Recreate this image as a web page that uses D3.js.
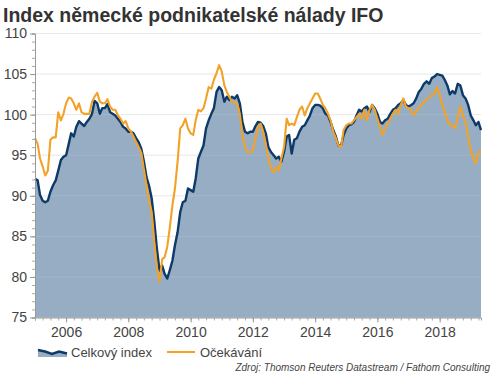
<!DOCTYPE html>
<html>
<head>
<meta charset="utf-8">
<script src="https://cdn.jsdelivr.net/npm/d3@7"></script>
<style>
  body { margin: 0; background: #fff; }
  svg { font-family: "Liberation Sans", Arial, sans-serif; }
</style>
</head>
<body>
<svg id="chart" width="500" height="375"></svg>
<script>
// monthly data, Jan 2005 .. May 2019
const startMonth = new Date(2005, 0, 1);

const celkovy = [
  92.1, 91.9, 90.1, 89.4, 89.2, 89.4, 90.5, 91.3, 91.9, 93.1, 94.4, 94.8,
  95.0, 96.4, 97.7, 97.3, 98.5, 99.2, 98.9, 98.6, 99.1, 99.5, 100.1, 101.7,
  101.4, 100.1, 100.8, 100.8, 101.3, 100.3, 100.1, 99.9, 99.5, 99.1, 98.5, 98.3,
  97.9, 97.9, 97.7, 97.1, 96.6, 95.8, 94.3, 92.3, 91.2, 89.7, 86.8, 83.5,
  80.8, 81.4, 80.4, 79.8, 80.8, 82.0, 83.9, 85.5, 88.0, 89.2, 89.4, 90.9,
  90.7, 90.5, 92.1, 94.6, 95.4, 96.2, 98.3, 99.3, 100.1, 100.8, 102.8, 103.4,
  103.0, 101.6, 102.2, 101.8, 102.2, 102.0, 102.4, 101.4, 99.1, 97.9, 97.7, 97.9,
  97.9, 98.6, 99.1, 99.0, 98.6, 97.7, 96.0, 95.4, 95.0, 94.6, 94.8, 94.2,
  95.4, 97.3, 97.5, 95.2, 96.9, 97.1, 97.9, 98.5, 98.7, 99.3, 99.9, 100.8,
  101.2, 101.2, 101.1, 100.8, 100.1, 99.9, 99.1, 98.1, 97.3, 96.2, 96.2, 97.5,
  98.3, 98.7, 98.8, 99.1, 99.9, 100.6, 100.4, 100.8, 101.0, 100.3, 101.2, 100.8,
  100.1, 99.1, 98.9, 99.3, 99.5, 100.1, 100.6, 100.8, 101.2, 101.4, 101.8, 101.2,
  101.0, 101.2, 101.4, 102.0, 102.8, 103.2, 103.8, 104.1, 103.8, 104.5, 104.7, 105.0,
  104.9, 104.8, 104.3, 103.6, 102.5, 102.9, 102.6, 103.8, 103.6, 102.4, 102.0, 101.2,
  99.9, 99.3, 98.7, 99.1, 98.1
];

const ocekavani = [
  97.1, 96.4, 94.6, 93.6, 92.5, 93.1, 96.9, 97.2, 97.2, 100.3, 99.3, 100.1,
  101.4, 102.1, 102.0, 101.4, 100.6, 101.4, 100.3, 100.1, 100.1, 100.1, 101.6, 102.2,
  102.7, 101.6, 101.4, 101.4, 101.9, 101.0, 100.6, 100.6, 99.9, 99.5, 98.9, 99.2,
  98.3, 97.9, 97.3, 96.6, 96.0, 95.3, 93.3, 91.3, 89.3, 88.0, 84.3, 81.2,
  79.4, 82.2, 82.4, 83.7, 86.0, 88.8, 90.9, 94.2, 98.3, 98.7, 99.5, 98.3,
  97.7, 97.5, 99.3, 100.6, 100.4, 100.8, 102.0, 103.4, 103.2, 104.3, 105.1, 106.1,
  105.3, 103.6, 102.8, 102.2, 101.6, 101.5, 101.4, 100.1, 97.5, 96.0, 95.4, 95.4,
  95.5, 97.1, 98.5, 98.9, 97.9, 96.4, 94.6, 93.4, 92.9, 93.6, 93.1, 94.6,
  96.0, 99.5, 98.7, 98.9, 98.7, 99.7, 100.6, 101.0, 99.9, 100.8, 101.4, 102.0,
  102.6, 102.6, 102.0, 101.2, 100.8, 100.1, 99.3, 97.9, 97.1, 96.2, 96.0, 98.1,
  98.7, 98.9, 98.9, 99.3, 99.7, 100.1, 99.5, 100.6, 99.3, 100.6, 101.2, 100.6,
  99.5, 98.5, 97.5, 98.3, 98.9, 99.5, 100.1, 100.6, 100.1, 101.2, 102.0, 101.0,
  100.8, 100.6, 99.9, 100.4, 100.8, 101.2, 101.6, 101.8, 102.2, 102.4, 102.6, 103.4,
  102.4, 101.2, 100.4, 99.3, 98.7, 98.7, 98.3, 99.7, 101.0, 99.9, 99.1, 97.3,
  95.6, 94.6, 94.0, 95.4, 95.4
];

const yTicks = [75, 80, 85, 90, 95, 100, 105, 110];
const seriesNames = ['Celkový index', 'Očekávání'];
const titleText = 'Index německé podnikatelské nálady IFO';
const sourceText = 'Zdroj: Thomson Reuters Datastream / Fathom Consulting';

const dates = celkovy.map((d, i) => d3.timeMonth.offset(startMonth, i));

const svg = d3.select('#chart');
const plot = {left: 35, right: 481, top: 33.5, bottom: 317.5};

const x = d3.scaleTime()
    .domain([startMonth, dates[dates.length - 1]])
    .range([plot.left, plot.right]);

const y = d3.scaleLinear()
    .domain([75, 110])
    .range([plot.bottom, plot.top]);

svg.append('text')
    .attr('x', 3)
    .attr('y', 22)
    .attr('font-size', 19.5)
    .attr('font-weight', 'bold')
    .attr('fill', '#333')
    .text(titleText);

// grid under the area
svg.append('g')
  .selectAll('line')
  .data(yTicks)
  .join('line')
    .attr('x1', plot.left).attr('x2', plot.right)
    .attr('y1', d => y(d)).attr('y2', d => y(d))
    .attr('stroke', '#e6e6e6');

const area = d3.area()
    .x((d, i) => x(dates[i]))
    .y0(y(75))
    .y1(d => y(d));

const line = d3.line()
    .x((d, i) => x(dates[i]))
    .y(d => y(d));

svg.append('path')
    .datum(celkovy)
    .attr('d', area)
    .attr('fill', '#97adc3');

// faint grid over the area
svg.append('g')
  .selectAll('line')
  .data(yTicks.slice(1))
  .join('line')
    .attr('x1', plot.left).attr('x2', plot.right)
    .attr('y1', d => y(d)).attr('y2', d => y(d))
    .attr('stroke', '#fff')
    .attr('stroke-opacity', 0.12);

svg.append('path')
    .datum(celkovy)
    .attr('d', line)
    .attr('fill', 'none')
    .attr('stroke', '#0d3a68')
    .attr('stroke-width', 2.4)
    .attr('stroke-linejoin', 'round');

svg.append('path')
    .datum(ocekavani)
    .attr('d', line)
    .attr('fill', 'none')
    .attr('stroke', '#f2a227')
    .attr('stroke-width', 2.1)
    .attr('stroke-linejoin', 'round');

// y axis
const yMinor = svg.append('g')
    .attr('transform', `translate(${plot.left},0)`)
    .call(d3.axisLeft(y).tickValues(d3.range(75, 111, 1)).tickSize(3).tickFormat(''));
yMinor.selectAll('line').attr('stroke', '#aaa');
yMinor.select('.domain').attr('stroke', '#999');

const yAxis = svg.append('g')
    .attr('transform', `translate(${plot.left},0)`)
    .call(d3.axisLeft(y).tickValues(yTicks).tickSize(5).tickPadding(3));
yAxis.select('.domain').remove();
yAxis.selectAll('line').attr('stroke', '#999');
yAxis.selectAll('text')
    .attr('font-size', 14)
    .attr('fill', '#444')
    .attr('font-family', '"Liberation Sans", Arial, sans-serif');

// x axis
const xMinor = svg.append('g')
    .attr('transform', `translate(0,${plot.bottom})`)
    .call(d3.axisBottom(x).ticks(d3.timeMonth.every(3)).tickSize(3).tickFormat(''));
xMinor.selectAll('line').attr('stroke', '#aaa');
xMinor.select('.domain').attr('stroke', '#999');

const xAxis = svg.append('g')
    .attr('transform', `translate(0,${plot.bottom})`)
    .call(d3.axisBottom(x).ticks(d3.timeYear.every(2)).tickSize(5).tickPadding(5)
      .tickFormat(d3.timeFormat('%Y')));
xAxis.select('.domain').remove();
xAxis.selectAll('line').attr('stroke', '#999');
xAxis.selectAll('text')
    .attr('font-size', 14)
    .attr('fill', '#444')
    .attr('font-family', '"Liberation Sans", Arial, sans-serif');

// legend
const lg = svg.append('g');
const swatch = [[38, 350], [45, 351.5], [52, 354], [59, 351.5], [67, 353.5]];
lg.append('path')
    .datum(swatch)
    .attr('d', d3.area().x(d => d[0]).y0(357).y1(d => d[1]))
    .attr('fill', '#97adc3');
lg.append('path')
    .datum(swatch)
    .attr('d', d3.line())
    .attr('fill', 'none')
    .attr('stroke', '#0d3a68')
    .attr('stroke-width', 2.4);
lg.append('text')
    .attr('x', 71).attr('y', 357)
    .attr('font-size', 13).attr('fill', '#444')
    .text(seriesNames[0]);
lg.append('line')
    .attr('x1', 167).attr('x2', 195)
    .attr('y1', 352).attr('y2', 352)
    .attr('stroke', '#f2a227')
    .attr('stroke-width', 2.1);
lg.append('text')
    .attr('x', 200).attr('y', 357)
    .attr('font-size', 13).attr('fill', '#444')
    .text(seriesNames[1]);

svg.append('text')
    .attr('x', 490).attr('y', 371)
    .attr('text-anchor', 'end')
    .attr('font-size', 10)
    .attr('font-style', 'italic')
    .attr('fill', '#444')
    .text(sourceText);
</script>
</body>
</html>
